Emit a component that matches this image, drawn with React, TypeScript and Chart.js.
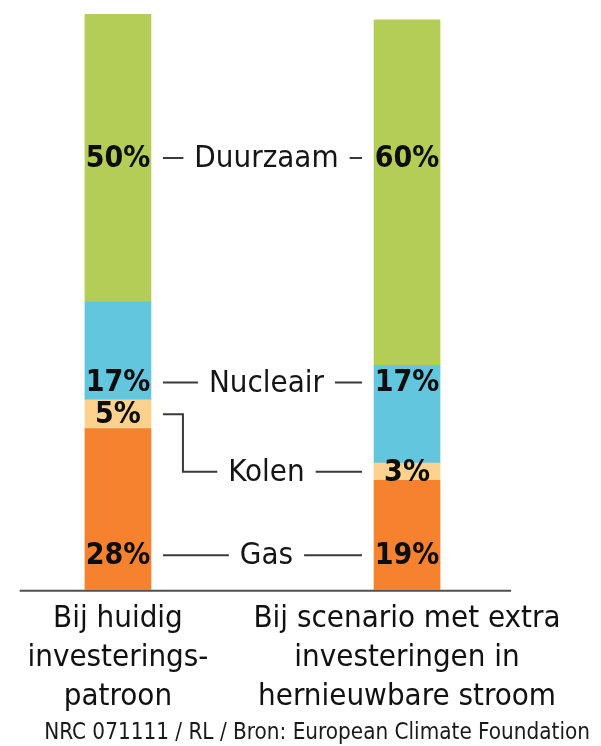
import React, { useEffect, useRef } from 'react';
import { Chart, registerables } from 'chart.js';

Chart.register(...registerables);

// ---- data ----
const categories: string[][] = [
  ['Bij huidig', 'investerings-', 'patroon'],
  ['Bij scenario met extra', 'investeringen in', 'hernieuwbare stroom'],
];
const sources = ['Gas', 'Kolen', 'Nucleair', 'Duurzaam'];
const gas = [28, 19];
const kolen = [5, 3];
const nucleair = [17, 17];
const duurzaam = [50, 60];
const seriesValues = [gas, kolen, nucleair, duurzaam];
const colors = ['#f6812f', '#fdd28f', '#63c6df', '#b3cd56'];
// value (in %) at which each label row sits; null = centred on its own segment
const rowAnchors: (number | null)[] = [6, null, 36, 75];
const footerText = 'NRC 071111 / RL / Bron: European Climate Foundation';

const FONT = '"DejaVu Sans Condensed", "DejaVu Sans", sans-serif';

const labelPlugin = {
  id: 'rowLabels',
  afterDatasetsDraw(chart: any) {
    const ctx = chart.ctx;
    const ys = chart.scales.y;
    const xs = chart.scales.x;
    ctx.save();
    ctx.strokeStyle = '#3a3a3a';
    ctx.lineWidth = 2;
    ctx.fillStyle = '#111';
    ctx.textBaseline = 'middle';

    // baseline
    const by = ys.getPixelForValue(0) + 1;
    ctx.beginPath();
    ctx.strokeStyle = '#505050';
    ctx.moveTo(xs.getPixelForValue(-0.34), by);
    ctx.lineTo(xs.getPixelForValue(1.36), by);
    ctx.stroke();
    ctx.strokeStyle = '#3a3a3a';

    sources.forEach((name, i) => {
      const bars = chart.getDatasetMeta(i).data;
      const b1 = bars[0];
      const b2 = bars[1];
      const left = b1.x + b1.width / 2 + 12;
      const right = b2.x - b2.width / 2 - 12;
      const center = (left + right) / 2 + 4;
      let y1: number, y2: number;
      const anchor = rowAnchors[i];
      if (anchor !== null) {
        y1 = ys.getPixelForValue(anchor);
        y2 = y1;
      } else {
        y1 = (b1.y + b1.base) / 2;
        y2 = (b2.y + b2.base) / 2;
      }
      // percentage labels
      ctx.font = `bold 30px ${FONT}`;
      ctx.textAlign = 'center';
      ctx.fillStyle = '#0d0d0d';
      ctx.fillText(`${seriesValues[i][0]}%`, b1.x, y1 + 1);
      ctx.fillText(`${seriesValues[i][1]}%`, b2.x, y2 + 1);
      // name
      ctx.font = `31px ${FONT}`;
      ctx.fillStyle = '#151515';
      const tw = ctx.measureText(name).width;
      ctx.fillText(name, center, y2 + 1);
      const gap = 11;
      ctx.beginPath();
      if (anchor !== null) {
        ctx.moveTo(left, y1);
        ctx.lineTo(center - tw / 2 - gap, y1);
      } else {
        const ex = left + 20;
        ctx.moveTo(left, y1);
        ctx.lineTo(ex, y1);
        ctx.lineTo(ex, y2);
        ctx.lineTo(center - tw / 2 - gap, y2);
      }
      ctx.moveTo(center + tw / 2 + gap, y2);
      ctx.lineTo(right, y2);
      ctx.stroke();
    });

    // footer
    ctx.font = `22.3px ${FONT}`;
    ctx.textAlign = 'right';
    ctx.textBaseline = 'alphabetic';
    ctx.fillStyle = '#1a1a1a';
    ctx.fillText(footerText, chart.width - 11, chart.height - 7);
    ctx.restore();
  },
};

export default function App() {
  const ref = useRef<HTMLCanvasElement | null>(null);
  useEffect(() => {
    if (!ref.current) return;
    const chart = new Chart(ref.current, {
      type: 'bar',
      data: {
        datasets: sources.map((name, i) => ({
          label: name,
          data: seriesValues[i].map((v, j) => ({ x: j, y: v })),
          backgroundColor: colors[i],
          borderWidth: 0,
          barThickness: 66,
        })),
      },
      options: {
        animation: false,
        responsive: false,
        devicePixelRatio: 1,
        layout: { padding: { top: 14, bottom: 20, left: 0, right: 0 } },
        plugins: {
          legend: { display: false },
          tooltip: { enabled: false },
        },
        scales: {
          x: {
            type: 'linear',
            offset: false,
            min: -0.408,
            max: 1.671,
            stacked: true,
            grid: { display: false, drawTicks: false, offset: false },
            border: { display: false },
            afterBuildTicks: (axis: any) => {
              axis.ticks = categories.map((_, j) => ({ value: j }));
            },
            ticks: {
              autoSkip: false,
              maxRotation: 0,
              padding: 10,
              color: '#111',
              font: { family: FONT, size: 31, lineHeight: 1.25 },
              callback: (v: any) => categories[v as number] ?? '',
            },
          },
          y: {
            display: false,
            stacked: true,
            min: 0,
            max: 100,
          },
        },
      },
      plugins: [labelPlugin],
    } as any);
    return () => chart.destroy();
  }, []);
  return (
    <div style={{ position: 'absolute', left: 0, top: 0, width: 601, height: 746, background: '#fff' }}>
      <canvas ref={ref} width={601} height={746} />
    </div>
  );
}
